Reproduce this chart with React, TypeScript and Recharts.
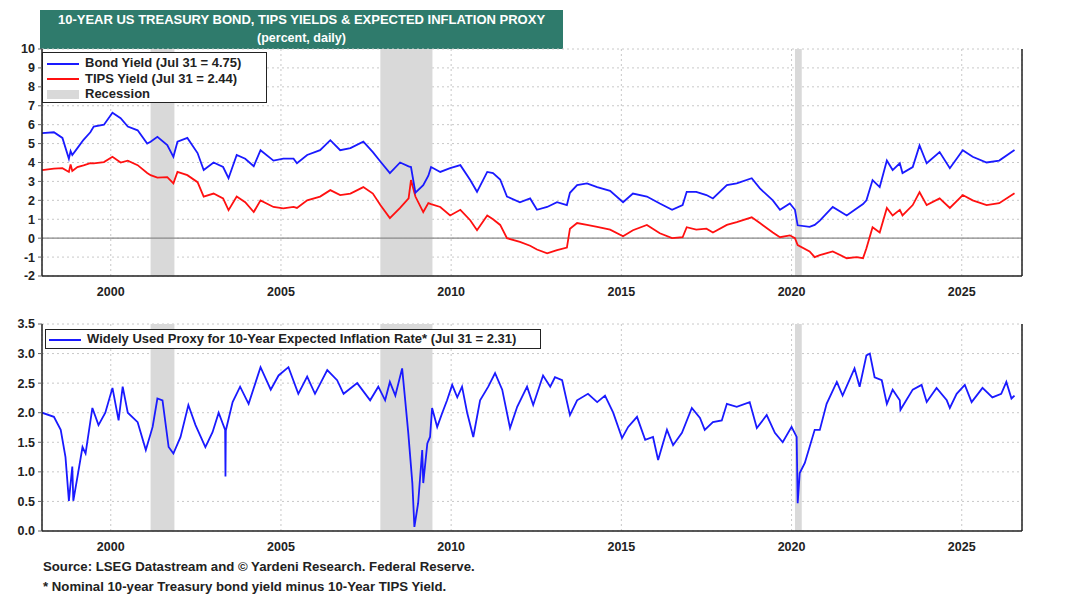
import React from "react";
import {
  LineChart,
  Line,
  XAxis,
  YAxis,
  CartesianGrid,
  ReferenceArea,
  ReferenceLine,
} from "recharts";

// decimal years
const topYears = [
  1997.98, 1998.33, 1998.58, 1998.77, 1998.82, 1998.87, 1999.02, 1999.2, 1999.4, 1999.5,
  1999.8, 2000.05, 2000.29, 2000.5, 2000.79, 2001.07, 2001.17, 2001.37, 2001.66, 2001.84,
  2001.96, 2002.25, 2002.55, 2002.73, 2003.02, 2003.3, 2003.46, 2003.7, 2003.95, 2004.2,
  2004.4, 2004.78, 2005.07, 2005.37, 2005.47, 2005.77, 2006.15, 2006.45, 2006.74, 2007.04,
  2007.42, 2007.7, 2007.92, 2008.2, 2008.5, 2008.75, 2008.82, 2008.95, 2009.18, 2009.33,
  2009.41, 2009.68, 2009.97, 2010.27, 2010.56, 2010.76, 2011.06, 2011.23, 2011.44, 2011.64,
  2012.02, 2012.32, 2012.52, 2012.82, 2013.11, 2013.4, 2013.49, 2013.7, 2013.99, 2014.29,
  2014.67, 2015.05, 2015.34, 2015.75, 2016.13, 2016.49, 2016.8, 2016.92, 2017.2, 2017.5,
  2017.69, 2018.1, 2018.39, 2018.83, 2019.07, 2019.45, 2019.66, 2019.95, 2020.1, 2020.18,
  2020.53, 2020.68, 2020.83, 2021.21, 2021.62, 2021.91, 2022.1, 2022.2, 2022.38, 2022.59,
  2022.8, 2022.97, 2023.18, 2023.26, 2023.56, 2023.76, 2023.97, 2024.35, 2024.65, 2025.03,
  2025.32, 2025.73, 2026.1, 2026.55,
];

const bondYield = [
  5.55, 5.6, 5.3, 4.2, 4.6, 4.4, 4.76, 5.2, 5.6, 5.9,
  6.0, 6.63, 6.34, 5.9, 5.7, 5.0, 5.1, 5.36, 4.92, 4.3,
  5.1, 5.3, 4.5, 3.6, 4.0, 3.76, 3.17, 4.4, 4.2, 3.8,
  4.65, 4.1, 4.2, 4.2, 3.96, 4.4, 4.65, 5.18, 4.65, 4.76,
  5.1, 4.55, 4.05, 3.44, 4.0, 3.8, 3.76, 2.4, 2.8, 3.3,
  3.76, 3.5, 3.7, 3.86, 3.07, 2.45, 3.5, 3.44, 3.1, 2.2,
  1.9, 2.1, 1.5, 1.65, 1.9, 1.75, 2.4, 2.8, 2.9, 2.7,
  2.5, 1.9, 2.36, 2.2, 1.83, 1.5, 1.75, 2.45, 2.45, 2.28,
  2.1, 2.8, 2.9, 3.17, 2.63, 2.0, 1.5, 1.83, 1.5, 0.68,
  0.6, 0.7, 0.93, 1.65, 1.2, 1.57, 1.8, 2.0, 3.07, 2.7,
  4.1, 3.6, 3.96, 3.44, 3.76, 4.9, 3.96, 4.55, 3.7, 4.65,
  4.3, 4.0, 4.1, 4.66,
];

const tipsYield = [
  3.6, 3.68, 3.7, 3.5, 3.9, 3.55, 3.76, 3.85, 3.96, 3.95,
  4.02, 4.3, 4.0, 4.1, 3.86, 3.45, 3.33, 3.2, 3.23, 2.9,
  3.5, 3.33, 2.96, 2.2, 2.36, 2.1, 1.48, 2.2, 1.9, 1.38,
  2.0, 1.65, 1.58, 1.65, 1.6, 2.0, 2.2, 2.54, 2.28, 2.36,
  2.7, 2.36, 1.75, 1.06, 1.6, 2.1, 3.07, 2.2, 1.38, 1.85,
  1.8, 1.65, 1.2, 1.5, 0.95, 0.42, 1.2, 1.0, 0.7, 0.0,
  -0.2, -0.4, -0.6, -0.8, -0.63, -0.5, 0.5, 0.8, 0.7, 0.6,
  0.45, 0.1, 0.42, 0.7, 0.26, 0.0, 0.05, 0.58, 0.45, 0.5,
  0.3, 0.7, 0.85, 1.1, 0.8, 0.3, 0.05, 0.15, 0.0, -0.37,
  -0.7, -1.0, -0.9, -0.7, -1.06, -1.0, -1.06, -0.53, 0.58, 0.3,
  1.6, 1.2, 1.5, 1.2, 1.75, 2.43, 1.75, 2.1, 1.6, 2.28,
  2.0, 1.75, 1.85, 2.38,
];

const proxyYears = [
  1997.98, 1998.33, 1998.53, 1998.67, 1998.77, 1998.87, 1998.9, 1999.02, 1999.17, 1999.26,
  1999.46, 1999.64, 1999.84, 2000.05, 2000.23, 2000.35, 2000.5, 2000.79, 2001.03, 2001.23,
  2001.37, 2001.52, 2001.7, 2001.84, 2002.05, 2002.28, 2002.49, 2002.78, 2002.99, 2003.17,
  2003.36, 2003.37, 2003.38, 2003.58, 2003.8, 2004.05, 2004.4, 2004.7, 2004.93, 2005.22,
  2005.51, 2005.77, 2006.0, 2006.36, 2006.65, 2006.84, 2007.24, 2007.62, 2007.86, 2008.06,
  2008.2, 2008.36, 2008.56, 2008.65, 2008.74, 2008.86, 2008.92, 2009.03, 2009.15, 2009.18,
  2009.3, 2009.38, 2009.44, 2009.59, 2009.74, 2009.88, 2010.03, 2010.18, 2010.32, 2010.47,
  2010.65, 2010.85, 2011.09, 2011.29, 2011.5, 2011.73, 2011.94, 2012.23, 2012.41, 2012.7,
  2012.91, 2013.05, 2013.26, 2013.49, 2013.7, 2014.02, 2014.29, 2014.52, 2014.76, 2015.02,
  2015.2, 2015.46, 2015.7, 2015.93, 2016.08, 2016.34, 2016.52, 2016.78, 2017.07, 2017.31,
  2017.45, 2017.69, 2017.95, 2018.1, 2018.39, 2018.77, 2018.98, 2019.27, 2019.51, 2019.74,
  2020.0, 2020.15, 2020.18, 2020.24, 2020.39, 2020.68, 2020.83, 2021.03, 2021.33, 2021.5,
  2021.85, 2022.0, 2022.2, 2022.3, 2022.44, 2022.65, 2022.8, 2022.97, 2023.18, 2023.2,
  2023.56, 2023.82, 2023.97, 2024.26, 2024.56, 2024.65, 2024.85, 2025.09, 2025.29, 2025.61,
  2025.9, 2026.16, 2026.31, 2026.46, 2026.55,
];

const proxyRate = [
  2.0, 1.93, 1.71, 1.25, 0.51, 1.09, 0.51, 0.91, 1.42, 1.31,
  2.08, 1.79, 2.0, 2.42, 1.87, 2.44, 2.0, 1.84, 1.37, 1.76,
  2.24, 2.21, 1.42, 1.31, 1.59, 2.13, 1.79, 1.42, 1.67, 2.0,
  1.71, 0.92, 1.7, 2.18, 2.44, 2.15, 2.77, 2.39, 2.63, 2.77,
  2.32, 2.61, 2.32, 2.72, 2.55, 2.32, 2.5, 2.21, 2.44, 2.21,
  2.52, 2.29, 2.75, 2.21, 1.66, 0.81, 0.07, 0.47, 1.37, 0.81,
  1.48, 1.59, 2.08, 1.76, 2.0, 2.21, 2.47, 2.26, 2.44, 2.0,
  1.59, 2.21, 2.44, 2.67, 2.39, 1.74, 2.1, 2.44, 2.13, 2.63,
  2.44, 2.6, 2.55, 1.96, 2.21, 2.32, 2.18, 2.29, 2.0, 1.57,
  1.76, 1.93, 1.54, 1.59, 1.2, 1.71, 1.45, 1.66, 2.08, 1.91,
  1.71, 1.84, 1.87, 2.15, 2.1, 2.18, 1.74, 1.96, 1.66, 1.5,
  1.76, 1.59, 0.47, 0.98, 1.15, 1.71, 1.71, 2.15, 2.52, 2.29,
  2.75, 2.44, 2.97, 3.0, 2.6, 2.55, 2.15, 2.39, 2.21, 2.05,
  2.39, 2.47, 2.18, 2.42, 2.21, 2.08, 2.32, 2.47, 2.18, 2.42,
  2.26, 2.32, 2.52, 2.24, 2.29,
];

const recessionStart = [2001.17, 2007.92, 2020.1];
const recessionEnd = [2001.87, 2009.45, 2020.3];

const yearTicks = [2000, 2005, 2010, 2015, 2020, 2025];
const topTicks = [-2, -1, 0, 1, 2, 3, 4, 5, 6, 7, 8, 9, 10];
const bottomTicks = [0, 0.5, 1, 1.5, 2, 2.5, 3, 3.5];

const topData = topYears.map((t, i) => ({ t, bond: bondYield[i], tips: tipsYield[i] }));
const proxyData = proxyYears.map((t, i) => ({ t, proxy: proxyRate[i] }));

const FONT = "'Liberation Sans', Arial, sans-serif";
const X_DOMAIN: [number, number] = [1997.98, 2026.77];
const BLUE = "#1a1aff";
const RED = "#ff1010";
const tickStyle = { fill: "#222", fontSize: 12.5, fontWeight: 700, fontFamily: FONT };
const axisStroke = { stroke: "#222", strokeWidth: 1.5 };

const Recessions = () =>
  recessionStart.map((s, i) => (
    <ReferenceArea
      key={i}
      yAxisId="left"
      x1={s}
      x2={recessionEnd[i]}
      fill="#d9d9d9"
      fillOpacity={1}
      stroke="none"
      ifOverflow="hidden"
    />
  ));

const LegendLine = ({ color }: { color: string }) => (
  <span style={{ display: "inline-block", width: 32, height: 2, background: color, marginRight: 6, verticalAlign: "middle" }} />
);

const App = () => {
  return (
    <div style={{ position: "absolute", left: 0, top: 0, width: 1080, height: 609, background: "#fff", fontFamily: FONT }}>
      <div
        style={{
          position: "absolute",
          left: 40,
          top: 10,
          width: 523,
          height: 39,
          background: "#2f7b6c",
          color: "#fff",
          fontWeight: 700,
          fontSize: 13,
          textAlign: "center",
          lineHeight: "18px",
          paddingTop: 1,
          boxSizing: "border-box",
        }}
      >
        <div>10-YEAR US TREASURY BOND, TIPS YIELDS &amp; EXPECTED INFLATION PROXY</div>
        <div style={{ fontSize: 12.5 }}>(percent, daily)</div>
      </div>

      <div style={{ position: "absolute", left: 0, top: 0 }}>
        <LineChart width={1080} height={310} data={topData} margin={{ top: 49, right: 0, bottom: 0, left: 0 }}>
          <CartesianGrid yAxisId="left" stroke="#c8c8c8" strokeDasharray="2 3" />
          {Recessions()}
          <ReferenceLine yAxisId="left" y={0} stroke="#888" strokeWidth={1.2} />
          <XAxis
            dataKey="t"
            type="number"
            domain={X_DOMAIN}
            ticks={yearTicks}
            allowDataOverflow
            height={34}
            tickLine={false}
            tickSize={0}
            tickMargin={11}
            axisLine={axisStroke}
            tick={tickStyle}
          />
          <XAxis xAxisId="top" orientation="top" dataKey="t" type="number" domain={X_DOMAIN} height={0} tick={false} tickLine={false} axisLine={axisStroke} />
          <YAxis yAxisId="left" width={42} domain={[-2, 10]} ticks={topTicks} interval={0} tickSize={4} tickMargin={3} tickLine={{ stroke: "#666" }} axisLine={axisStroke} tick={tickStyle} />
          <YAxis yAxisId="right" orientation="right" width={58} domain={[-2, 10]} ticks={topTicks} interval={0} tickSize={4} tickMargin={5} tickLine={{ stroke: "#666" }} axisLine={axisStroke} tick={tickStyle} />
          <Line yAxisId="left" dataKey="tips" stroke={RED} strokeWidth={1.8} dot={false} isAnimationActive={false} />
          <Line yAxisId="left" dataKey="bond" stroke={BLUE} strokeWidth={1.8} dot={false} isAnimationActive={false} />
        </LineChart>
      </div>

      <div style={{ position: "absolute", left: 0, top: 310 }}>
        <LineChart width={1080} height={250} data={proxyData} margin={{ top: 14, right: 0, bottom: 0, left: 0 }}>
          <CartesianGrid yAxisId="left" stroke="#c8c8c8" strokeDasharray="2 3" />
          {Recessions()}
          <XAxis
            dataKey="t"
            type="number"
            domain={X_DOMAIN}
            ticks={yearTicks}
            allowDataOverflow
            height={29}
            tickLine={false}
            tickSize={0}
            tickMargin={11}
            axisLine={axisStroke}
            tick={tickStyle}
          />
          <XAxis xAxisId="top" orientation="top" dataKey="t" type="number" domain={X_DOMAIN} height={0} tick={false} tickLine={false} axisLine={axisStroke} />
          <YAxis yAxisId="left" width={42} domain={[0, 3.5]} ticks={bottomTicks} interval={0} tickFormatter={(v: number) => v.toFixed(1)} tickSize={4} tickMargin={3} tickLine={{ stroke: "#666" }} axisLine={axisStroke} tick={tickStyle} />
          <YAxis yAxisId="right" orientation="right" width={58} domain={[0, 3.5]} ticks={bottomTicks} interval={0} tickFormatter={(v: number) => v.toFixed(1)} tickSize={4} tickMargin={5} tickLine={{ stroke: "#666" }} axisLine={axisStroke} tick={tickStyle} />
          <Line yAxisId="left" dataKey="proxy" stroke={BLUE} strokeWidth={1.8} dot={false} isAnimationActive={false} />
        </LineChart>
      </div>

      <div
        style={{
          position: "absolute",
          left: 42,
          top: 52,
          width: 225,
          height: 51,
          border: "1.5px solid #222",
          background: "#fff",
          boxSizing: "border-box",
          fontSize: 13,
          fontWeight: 700,
          color: "#222",
          lineHeight: "15.5px",
          padding: "2px 0 0 4px",
        }}
      >
        <div><LegendLine color={BLUE} />Bond Yield (Jul 31 = 4.75)</div>
        <div><LegendLine color={RED} />TIPS Yield (Jul 31 = 2.44)</div>
        <div>
          <span style={{ display: "inline-block", width: 32, height: 9, background: "#d9d9d9", marginRight: 6, verticalAlign: "middle" }} />
          Recession
        </div>
      </div>

      <div
        style={{
          position: "absolute",
          left: 45,
          top: 329,
          width: 496,
          height: 20,
          border: "1.5px solid #222",
          background: "#fff",
          boxSizing: "border-box",
          fontSize: 13,
          fontWeight: 700,
          color: "#222",
          lineHeight: "17px",
          padding: "0 0 0 3px",
        }}
      >
        <LegendLine color={BLUE} />
        Widely Used Proxy for 10-Year Expected Inflation Rate* (Jul 31 = 2.31)
      </div>

      <div style={{ position: "absolute", left: 43, top: 557, fontSize: 13.2, fontWeight: 700, color: "#222", lineHeight: "20px" }}>
        <div>Source: LSEG Datastream and © Yardeni Research. Federal Reserve.</div>
        <div>* Nominal 10-year Treasury bond yield minus 10-Year TIPS Yield.</div>
      </div>
    </div>
  );
};

export default App;
